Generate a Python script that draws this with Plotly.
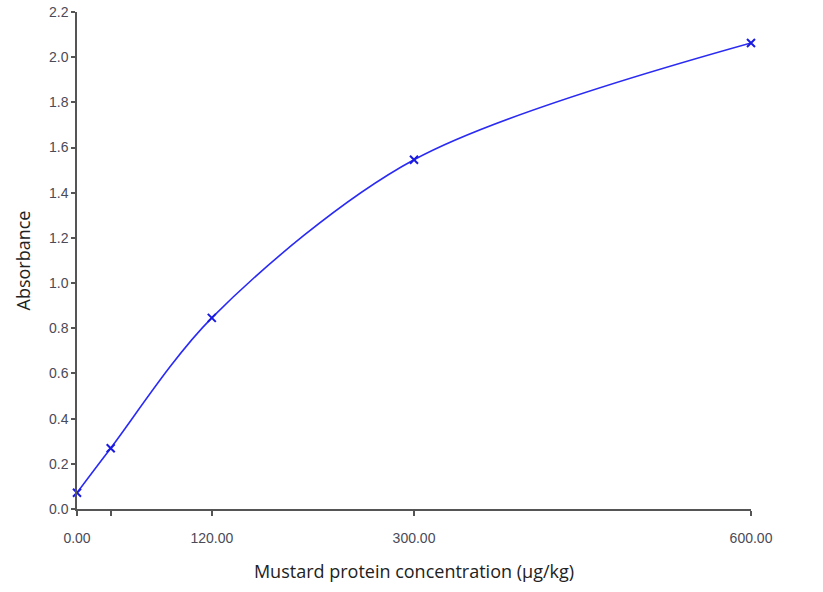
import plotly.graph_objects as go

concentration = [0, 30, 120, 300, 600]
absorbance = [0.072, 0.269, 0.846, 1.546, 2.063]

x_ticks = [0, 30, 120, 300, 600]
x_tick_labels = ["0.00", "", "120.00", "300.00", "600.00"]
y_ticks = [0.0, 0.2, 0.4, 0.6, 0.8, 1.0, 1.2, 1.4, 1.6, 1.8, 2.0, 2.2]

fig = go.Figure()
fig.add_trace(go.Scatter(
  x=concentration, y=absorbance,
  mode="lines+markers",
  line=dict(color="#2a2af5", width=1.6, shape="spline", smoothing=0.9),
  marker=dict(symbol="x-thin", size=8, color="#2a2af5", line=dict(color="#1a1ae0", width=2)),
  cliponaxis=False,
  showlegend=False,
))

fig.update_layout(
  width=823, height=592,
  margin=dict(l=77, r=72, t=12, b=83),
  plot_bgcolor="white", paper_bgcolor="white",
  font=dict(family="Liberation Sans, Arial", size=14, color="#4a4a58"),
)
fig.update_xaxes(
  range=[0, 600], tickvals=x_ticks, ticktext=x_tick_labels,
  showgrid=False, zeroline=False, showline=True, linecolor="#555555", linewidth=1.5,
  ticks="outside", ticklen=5, tickwidth=1.5, tickcolor="#555555",
  ticklabelstandoff=10, automargin=False,
  title=dict(text="Mustard protein concentration (µg/kg)", standoff=21,
             font=dict(family="Open Sans, Noto Sans", size=18, color="#222222")),
)
fig.update_yaxes(
  range=[0, 2.2], tickvals=y_ticks, tickformat=".1f",
  showgrid=False, zeroline=False, showline=True, linecolor="#555555", linewidth=1.5,
  ticks="outside", ticklen=4, tickwidth=1.5, tickcolor="#555555",
  automargin=False,
  title=dict(text="Absorbance", standoff=14,
             font=dict(family="Open Sans, Noto Sans", size=18, color="#222222")),
)

# drop the page's default body margin so the figure sits at the window corner
fig.write_html("out.html", config={"displayModeBar": False},
               post_script="document.body.style.margin='0';")
